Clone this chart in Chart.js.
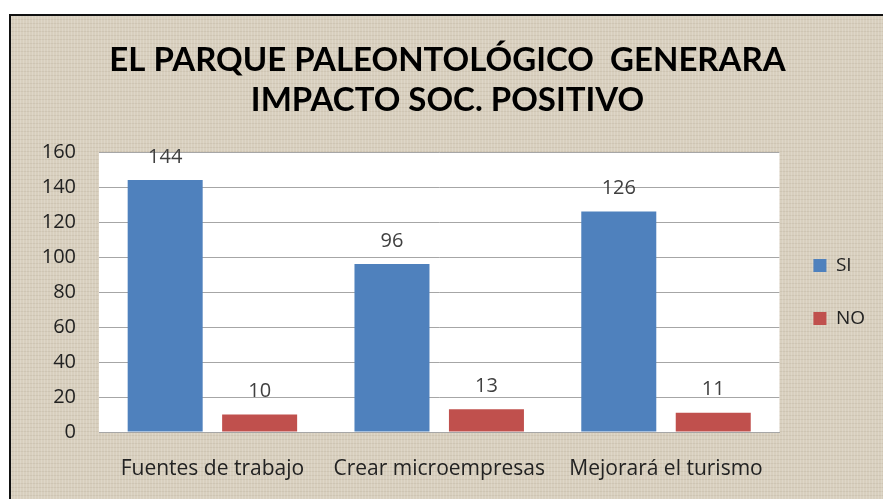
<!DOCTYPE html>
<html>
<head>
<meta charset="utf-8">
<script src="https://cdn.jsdelivr.net/npm/chart.js@4"></script>
<style>
  html,body{margin:0;padding:0;background:#fff;width:883px;height:499px;overflow:hidden;}
  #frame{position:absolute;left:9px;top:14px;width:900px;height:500px;
    border-left:2px solid #111;border-top:2px solid #111;
    background-color:#d8cfbe;
    background-image:
      repeating-linear-gradient(90deg, rgba(255,255,255,.16) 0 1px, transparent 1px 3px),
      repeating-linear-gradient(0deg, rgba(110,95,70,.09) 0 1px, transparent 1px 4px);}
  #wrap{position:absolute;left:0;top:0;width:883px;height:499px;}
</style>
</head>
<body>
<div id="frame"></div>
<div id="wrap"><canvas id="chart"></canvas></div>
<script>
  const categories = ['Fuentes de trabajo','Crear microempresas','Mejorará el turismo'];
  const siValues = [144, 96, 126];
  const noValues = [10, 13, 11];
  const yTicks = [0,20,40,60,80,100,120,140,160];
  const titleLines = ['EL PARQUE PALEONTOLÓGICO  GENERARA','IMPACTO SOC. POSITIVO'];

  const TITLE_FONT = 'Lato, "Open Sans", sans-serif';
  const FONT = '"Open Sans", Lato, sans-serif';

  // fondo blanco del área de trazado
  const plotBg = {
    id:'plotBg',
    beforeDraw(c){ const a=c.chartArea, x=c.ctx; x.save(); x.fillStyle='#fff';
      x.fillRect(a.left,a.top,a.right-a.left,a.bottom-a.top); x.restore(); }
  };
  // etiquetas de valor sobre cada barra
  const valueLabels = {
    id:'valueLabels',
    afterDatasetsDraw(c){
      const x=c.ctx; x.save();
      x.font='20px '+FONT; x.fillStyle='#404040'; x.textAlign='center'; x.textBaseline='middle';
      c.data.datasets.forEach((ds,i)=>{
        c.getDatasetMeta(i).data.forEach((bar,j)=>{ x.fillText(String(ds.data[j]), bar.x, bar.y-23); });
      });
      x.restore();
    }
  };

  new Chart(document.getElementById('chart'), {
    type:'bar',
    data:{ labels:categories, datasets:[
      {label:'SI', data:siValues, backgroundColor:'#4f81bd', categoryPercentage:0.833, barPercentage:0.794},
      {label:'NO', data:noValues, backgroundColor:'#c0504d', categoryPercentage:0.833, barPercentage:0.794}
    ]},
    options:{
      responsive:true, maintainAspectRatio:false, animation:false,
      layout:{ padding:{left:20, right:8, top:0, bottom:0} },
      plugins:{
        title:{ display:true, text:titleLines, color:'#000',
          font:{family:TITLE_FONT, size:33, weight:'bold', lineHeight:40/33},
          padding:{top:40, bottom:32} },
        legend:{ position:'right', fullSize:false,
          labels:{ boxWidth:13, boxHeight:13, padding:34, color:'#222', font:{family:FONT, size:19} } },
        tooltip:{enabled:false}
      },
      scales:{
        x:{ grid:{display:false}, border:{display:true, color:'#a6a6a6'},
            ticks:{ color:'#222', font:{family:FONT, size:21}, padding:16, maxRotation:0 },
            afterFit(s){ s.height=67; } },
        y:{ min:0, max:160, border:{display:false},
            grid:{ color:'#a6a6a6', drawTicks:false },
            afterBuildTicks(s){ s.ticks = yTicks.map(v=>({value:v})); },
            ticks:{ color:'#222', font:{family:FONT, size:20}, padding:23 },
            afterFit(s){ s.width=79; } }
      }
    },
    plugins:[plotBg, valueLabels]
  });
</script>
</body>
</html>
